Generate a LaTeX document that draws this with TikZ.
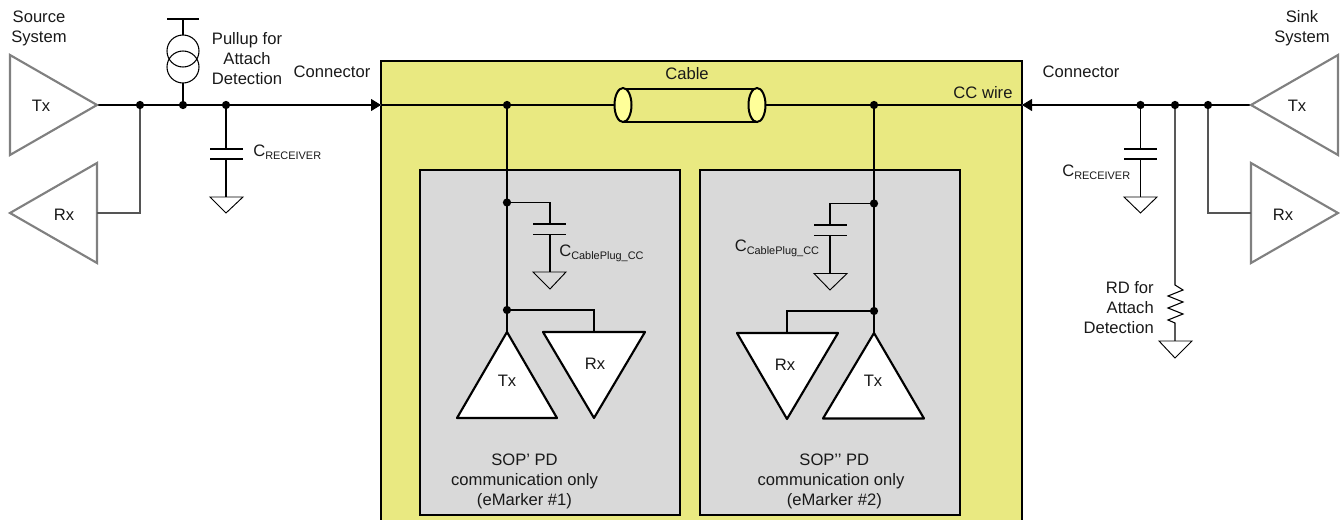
\documentclass[tikz,border=0pt]{standalone}
\usepackage{fontspec}
\setmainfont{Liberation Sans}
\usetikzlibrary{arrows.meta}
\definecolor{cableyellow}{HTML}{E9E981}
\definecolor{plugyellow}{HTML}{FFFF99}
\definecolor{chipgray}{HTML}{D9D9D9}
\definecolor{sysgray}{HTML}{808080}
\definecolor{wiregray}{HTML}{555555}
\newcommand{\CRec}{C{\fontsize{8.2}{9}\selectfont\raisebox{-2.2pt}{RECEIVER}}}
\newcommand{\CPlug}{C{\fontsize{8.2}{9}\selectfont\raisebox{-2.4pt}{CablePlug\_CC}}}
\tikzset{
  wire/.style={draw=black,line width=0.8pt,line join=miter},
  graywire/.style={draw=wiregray,line width=1.2pt,line join=miter},
  sysamp/.style={draw=sysgray,fill=white,line width=1.6pt,line join=miter},
  chipamp/.style={draw=black,fill=white,line width=1.6pt,line join=round},
  gnd/.style={draw=black,fill=none,line width=0.7pt,line join=miter},
  plate/.style={draw=black,line width=0.8pt},
  dotn/.style={circle,fill=black,inner sep=0pt,minimum size=6.2pt},
  lbl/.style={inner sep=0pt,font=\fontsize{12.45}{15}\selectfont,align=center,text=black!90},
  chipbox/.style={draw=black,fill=chipgray,line width=1.6pt,outer sep=0pt,inner sep=0pt},
  plug/.style={draw=black,fill=plugyellow,line width=1.5pt},
  conn/.style={wire,-{Triangle[length=7.5pt,width=9pt]}},
  stub/.style={draw=black!60,line width=1.1pt}
}
\begin{document}
\begin{tikzpicture}[x=0.75pt,y=-0.75pt]
\useasboundingbox (0,0) rectangle (1340,520);

% cable body
\fill[cableyellow] (381,61) rectangle (1022,520);
\draw[black,line width=1.7pt,line join=miter] (381,520) -- (381,61) -- (1022,61) -- (1022,520);

% eMarker boxes
\node[chipbox,minimum width=195pt,minimum height=258.75pt,anchor=north west] (chipA) at (419.6,170) {};
\node[chipbox,minimum width=195pt,minimum height=258.75pt,anchor=north west] (chipB) at (700.4,170) {};

% named points
\coordinate (txLo) at (97,105);
\coordinate (rxLi) at (97,213);
\coordinate (jA) at (140,105);
\coordinate (jB) at (183,105);
\coordinate (jC) at (226,105);
\coordinate (connL) at (381,105);
\coordinate (stubL) at (338,105);
\coordinate (jD) at (507,105);
\coordinate (plugL) at (615,105);
\coordinate (plugR) at (765.5,105);
\coordinate (jE) at (874,105);
\coordinate (connR) at (1022,105);
\coordinate (stubR) at (1064,105);
\coordinate (jF) at (1140.5,105);
\coordinate (jG) at (1175,105);
\coordinate (jH) at (1208,105);
\coordinate (txRo) at (1251,105);
\coordinate (rxRi) at (1251,213);
\coordinate (jI) at (507,202.5);
\coordinate (jJ) at (507,310);
\coordinate (jK) at (874,203.5);
\coordinate (jL) at (874,311);
\coordinate (txAt) at (507,332);
\coordinate (rxAt) at (594,332);
\coordinate (rxBt) at (787,333);
\coordinate (txBt) at (874,333);

% main wire, left and right
\draw[stub] (stubL) -- (connL);
\draw[stub] (stubR) -- (connR);
\draw[wire] (txLo) -- (jA) -- (jB) -- (jC);
\draw[conn] (jC) -- (connL);
\draw[wire] (connL) -- (jD) -- (plugL);
\draw[wire] (plugR) -- (jE) -- (connR);
\draw[wire] (txRo) -- (jH) -- (jG) -- (jF);
\draw[conn] (jF) -- (connR);

% Source system
\draw[sysamp] (10,55) -- (97,105) -- (10,155) -- cycle;
\draw[sysamp] (97,163) -- (97,263) -- (10,213) -- cycle;
\draw[graywire] (rxLi) -| (jA);

% Pullup
\coordinate (pullTop) at (183,19);
\draw[wire] (167,19) -- (199,19);
\draw[wire] (pullTop) -- (183,35);
\draw[wire] (183,83) -- (jB);
\draw[black,line width=0.8pt] (183,51) circle[radius=16];
\draw[black,line width=0.8pt] (183,67) circle[radius=16];

% C receiver left
\coordinate (capLa) at (226,149);
\coordinate (capLb) at (226,159);
\coordinate (gndL) at (226,197);
\draw[wire] (jC) -- (capLa);
\draw[plate] (210,149) -- (243,149);
\draw[plate] (210,159) -- (243,159);
\draw[wire] (capLb) -- (gndL);
\draw[gnd] (210,197) -- (243,197) -- (226,213) -- cycle;

% Sink system
\draw[sysamp] (1338,55) -- (1251,105) -- (1338,155) -- cycle;
\draw[sysamp] (1251,163) -- (1251,263) -- (1338,213) -- cycle;
\draw[graywire] (rxRi) -| (jH);

% C receiver right
\coordinate (capRa) at (1140.5,149);
\coordinate (capRb) at (1140.5,159);
\coordinate (gndR) at (1140.5,197);
\draw[wire] (jF) -- (capRa);
\draw[plate] (1124,149) -- (1157,149);
\draw[plate] (1124,159) -- (1157,159);
\draw[wire] (capRb) -- (gndR);
\draw[gnd] (1124,197) -- (1157,197) -- (1140.5,213) -- cycle;

% RD resistor
\coordinate (resT) at (1175,285);
\coordinate (resB) at (1175,341);
\draw[wire] (jG) -- (resT) -- (1183,290) -- (1168,296) -- (1183,302) -- (1168,308) -- (1183,314) -- (1168,320) -- (1175,323) -- (resB);
\draw[gnd] (1159,341) -- (1192,341) -- (1175,358) -- cycle;

% Cable symbol
\draw[black,line width=1.6pt] (623,88.7) -- (757,88.7);
\draw[black,line width=1.6pt] (623,122) -- (757,122);
\draw[plug] (623,105) ellipse[x radius=8.5,y radius=17];
\draw[plug] (757,105) ellipse[x radius=8.5,y radius=17];

% eMarker 1 wiring
\draw[wire] (jD) -- (jI) -- (jJ) -- (txAt);
\coordinate (capAa) at (550,224);
\coordinate (capAb) at (550,234.7);
\coordinate (gndA) at (550,272);
\draw[wire] (jI) -| (capAa);
\draw[plate] (533,224) -- (566,224);
\draw[plate] (533,234.7) -- (566,234.7);
\draw[wire] (capAb) -- (gndA);
\draw[gnd] (533,272) -- (566,272) -- (550,289) -- cycle;
\draw[wire] (jJ) -| (rxAt);
\draw[chipamp] (507,332) -- (557,418) -- (457,418) -- cycle;
\draw[chipamp] (543,332) -- (645,332) -- (594,418) -- cycle;

% eMarker 2 wiring
\draw[wire] (jE) -- (jK) -- (jL) -- (txBt);
\coordinate (capBa) at (830,225);
\coordinate (capBb) at (830,235.5);
\coordinate (gndB) at (830,273.5);
\draw[wire] (jK) -| (capBa);
\draw[plate] (814,225) -- (847,225);
\draw[plate] (814,235.5) -- (847,235.5);
\draw[wire] (capBb) -- (gndB);
\draw[gnd] (814,273.5) -- (847,273.5) -- (830,290) -- cycle;
\draw[wire] (jL) -| (rxBt);
\draw[chipamp] (737,333) -- (838,333) -- (787,419) -- cycle;
\draw[chipamp] (874,333) -- (924,418.5) -- (823,418.5) -- cycle;

% junction dots
\foreach \p/\n in {jA/dA,jB/dB,jC/dC,jD/dD,jE/dE,jF/dF,jG/dG,jH/dH,jI/dI,jJ/dJ,jK/dK,jL/dL}
  \node[dotn] (\n) at (\p) {};

% labels
\node[lbl] (lSource) at (39,28) {Source\\System};
\node[lbl] (lSink) at (1302,28) {Sink\\System};
\node[lbl] (lPull) at (247,59) {Pullup for\\Attach\\Detection};
\node[lbl] (lConnL) at (332,72) {Connector};
\node[lbl] (lConnR) at (1081,72) {Connector};
\node[lbl] (lCable) at (687,74) {Cable};
\node[lbl] (lCC) at (983,93) {CC wire};
\node[lbl,align=right,anchor=east] (lRD) at (1154,308) {RD for\\Attach\\Detection};
\node[lbl,anchor=west] (lCrecL) at (253,152) {\CRec};
\node[lbl,anchor=west] (lCrecR) at (1062,172) {\CRec};
\node[lbl,anchor=west] (lCplugA) at (559,253) {\CPlug};
\node[lbl,anchor=west] (lCplugB) at (734.5,248) {\CPlug};
\node[lbl] (lTxL) at (41,106) {Tx};
\node[lbl] (lRxL) at (64,215) {Rx};
\node[lbl] (lTxR) at (1297,106) {Tx};
\node[lbl] (lRxR) at (1283,215) {Rx};
\node[lbl] (lTxA) at (507,381) {Tx};
\node[lbl] (lRxA) at (595,364) {Rx};
\node[lbl] (lRxB) at (785,365) {Rx};
\node[lbl] (lTxB) at (873,381) {Tx};
\node[lbl] (lSopA) at (524.5,481) {SOP’ PD\\communication only\\(eMarker \#1)};
\node[lbl] (lSopB) at (831,481) {\hspace{5pt}SOP’’ PD\\communication only\\\hspace{5pt}(eMarker \#2)};
\end{tikzpicture}
\end{document}
